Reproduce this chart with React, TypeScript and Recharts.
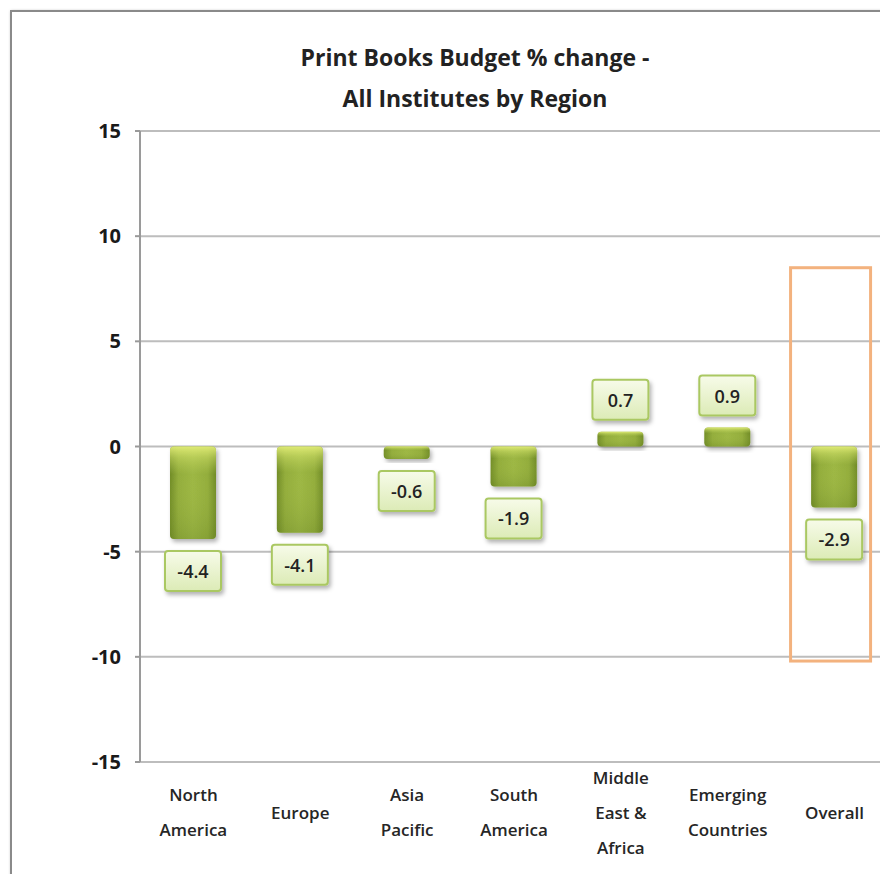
import React from "react";
import {
  BarChart,
  Bar,
  XAxis,
  YAxis,
  CartesianGrid,
  LabelList,
  ReferenceArea,
} from "recharts";

const CATEGORIES = [
  "North America",
  "Europe",
  "Asia Pacific",
  "South America",
  "Middle East & Africa",
  "Emerging Countries",
  "Overall",
];

const TICK_LABELS: string[][] = [
  ["North", "America"],
  ["Europe"],
  ["Asia", "Pacific"],
  ["South", "America"],
  ["Middle", "East &", "Africa"],
  ["Emerging", "Countries"],
  ["Overall"],
];

const CHANGE_VALUES = [-4.4, -4.1, -0.6, -1.9, 0.7, 0.9, -2.9];

const Y_TICKS = [-15, -10, -5, 0, 5, 10, 15];

const TITLE_LINES = ["Print Books Budget % change -", "All Institutes by Region"];

// highlighted category with the box extents in axis units
const HIGHLIGHT_CATEGORY = "Overall";
const HIGHLIGHT_RANGE = [-10.2, 8.5];

const FONT = "'Open Sans', 'Liberation Sans', sans-serif";

const data = CATEGORIES.map((category, i) => ({
  category,
  change: CHANGE_VALUES[i],
}));

const BarShape = (props: any) => {
  const { x, y, width, height } = props;
  const top = Math.min(y, y + height);
  const h = Math.abs(height);
  if (!h) return null;
  return (
    <g filter="url(#shadow)">
      <rect x={x} y={top} width={width} height={h} rx={4} fill="url(#barBody)" />
      <rect x={x} y={top} width={width} height={h} rx={4} fill="url(#barShine)" />
    </g>
  );
};

const ValueLabel = (props: any) => {
  const { x, y, width, height, value } = props;
  const top = Math.min(y, y + height);
  const bottom = Math.max(y, y + height);
  const boxW = 56;
  const boxH = 40;
  const cx = x + width / 2;
  const boxY = value < 0 ? bottom + 12 : top - 12 - boxH;
  return (
    <g>
      <rect
        x={cx - boxW / 2}
        y={boxY}
        width={boxW}
        height={boxH}
        rx={3}
        fill="url(#labelFill)"
        stroke="#aac862"
        strokeWidth={2}
        filter="url(#shadow)"
      />
      <text
        x={cx}
        y={boxY + boxH / 2}
        textAnchor="middle"
        dominantBaseline="central"
        fontFamily={FONT}
        fontSize={18}
        fontWeight={600}
        fill="#222"
      >
        {value}
      </text>
    </g>
  );
};

const CategoryTick = (props: any) => {
  const { x, y, index } = props;
  const lines = TICK_LABELS[index] || [String(props.payload?.value)];
  const lineH = 35;
  const centerY = y + 42;
  const startY = centerY - ((lines.length - 1) * lineH) / 2;
  return (
    <g>
      {lines.map((line, i) => (
        <text
          key={i}
          x={x}
          y={startY + i * lineH}
          textAnchor="middle"
          dominantBaseline="central"
          fontFamily={FONT}
          fontSize={17}
          fontWeight={600}
          fill="#262626"
        >
          {line}
        </text>
      ))}
    </g>
  );
};

const HighlightBox = (props: any) => {
  const { x, y, width, height } = props;
  const cx = x + width / 2;
  return (
    <rect
      x={cx - 44}
      y={y}
      width={80}
      height={height}
      fill="none"
      stroke="#f3b27e"
      strokeWidth={3}
    />
  );
};

export default function App() {
  return (
    <div
      style={{
        position: "relative",
        width: 880,
        height: 866,
        overflow: "hidden",
        background: "#fff",
      }}
    >
      <div
        style={{
          position: "absolute",
          left: 2,
          top: 2,
          width: 940,
          height: 940,
          border: "2px solid #8a8a8a",
          boxShadow: "1px 1px 3px rgba(0,0,0,0.35)",
        }}
      />
      <div
        style={{
          position: "absolute",
          left: 67,
          top: 29,
          width: 800,
          textAlign: "center",
          fontFamily: FONT,
          fontSize: 23,
          fontWeight: 700,
          lineHeight: "41px",
          color: "#222",
        }}
      >
        {TITLE_LINES.map((line) => (
          <div key={line}>{line}</div>
        ))}
      </div>
      <div style={{ position: "absolute", left: 0, top: 0 }}>
        <BarChart
          width={880}
          height={866}
          data={data}
          margin={{ top: 123, right: 0, left: 0, bottom: 82 }}
          barSize={46}
        >
          <defs>
            <linearGradient id="barBody" x1="0" y1="0" x2="1" y2="0">
              <stop offset="0%" stopColor="#718c27" />
              <stop offset="18%" stopColor="#93ad3c" />
              <stop offset="50%" stopColor="#9db744" />
              <stop offset="82%" stopColor="#93ad3c" />
              <stop offset="100%" stopColor="#718c27" />
            </linearGradient>
            <linearGradient id="barShine" x1="0" y1="0" x2="0" y2="1">
              <stop offset="0%" stopColor="#e6f07a" stopOpacity={0.9} />
              <stop offset="12%" stopColor="#d2e26a" stopOpacity={0.5} />
              <stop offset="30%" stopColor="#c0d460" stopOpacity={0} />
              <stop offset="100%" stopColor="#5e7a20" stopOpacity={0.25} />
            </linearGradient>
            <linearGradient id="labelFill" x1="0" y1="0" x2="0" y2="1">
              <stop offset="0%" stopColor="#f7fbe9" />
              <stop offset="100%" stopColor="#dcebb6" />
            </linearGradient>
            <filter id="shadow" x="-20%" y="-20%" width="150%" height="150%">
              <feDropShadow dx="2" dy="3" stdDeviation="2" floodColor="#000" floodOpacity="0.3" />
            </filter>
          </defs>
          <CartesianGrid vertical={false} stroke="#bdbdbd" strokeWidth={2} />
          <XAxis
            dataKey="category"
            axisLine={false}
            tickLine={false}
            interval={0}
            tick={<CategoryTick />}
          />
          <YAxis
            width={132}
            domain={[-15, 15]}
            ticks={Y_TICKS}
            interval={0}
            allowDataOverflow
            axisLine={{ stroke: "#9a9a9a", strokeWidth: 2 }}
            tickLine={{ stroke: "#9a9a9a", strokeWidth: 2 }}
            tickSize={5}
            tickMargin={14}
            tick={{ fill: "#1a1a1a", fontSize: 20, fontWeight: 700, fontFamily: FONT }}
          />
          <ReferenceArea
            x1={HIGHLIGHT_CATEGORY}
            x2={HIGHLIGHT_CATEGORY}
            y1={HIGHLIGHT_RANGE[0]}
            y2={HIGHLIGHT_RANGE[1]}
            ifOverflow="visible"
            shape={<HighlightBox />}
          />
          <Bar dataKey="change" shape={<BarShape />} isAnimationActive={false}>
            <LabelList dataKey="change" content={<ValueLabel />} />
          </Bar>
        </BarChart>
      </div>
    </div>
  );
}
